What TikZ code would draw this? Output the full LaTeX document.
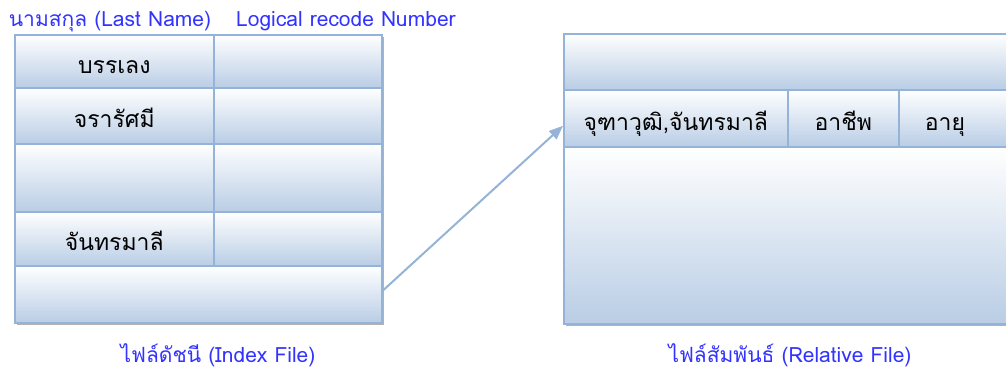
\documentclass[tikz,border=0pt]{standalone}
\usepackage{fontspec}
\newfontfamily\thaifont[Script=Thai]{Loma}
\usetikzlibrary{arrows.meta}
\definecolor{cellline}{HTML}{95B3D7}
\definecolor{cellbot}{HTML}{B9CDE5}
\definecolor{captionblue}{HTML}{3333FF}
\begin{document}
\begin{tikzpicture}[x=1pt,y=-1pt,
  cell/.style={draw=cellline, line width=1.6pt, top color=white, bottom color=cellbot,
    anchor=north west, inner sep=0pt, text=black, text height=24pt, text depth=0pt,
    font=\thaifont\fontsize{23}{26}\selectfont},
  celltext/.style={inner sep=0pt, text=black, text height=24pt, text depth=0pt,
    font=\thaifont\fontsize{23}{26}\selectfont},
  caption/.style={font=\thaifont\fontsize{21}{24}\selectfont, text=captionblue,
    inner sep=0pt, anchor=base},
  link/.style={draw=cellline, line width=2pt, -{Triangle[length=14pt,width=11pt]}},
  dropshadow/.style={fill=gray!60}]
\useasboundingbox (0,0) rectangle (1006,372);
\clip (0,0) rectangle (1006,372);

% drop shadows of both tables
\fill[dropshadow] (17,37) rectangle (384,325);
\fill[dropshadow] (566,36) rectangle (1012,326);

% index file
\node[cell, minimum width=199pt, minimum height=53pt] (i1a) at (14,34) {บรรเลง};
\node[cell, minimum width=168pt, minimum height=53pt] (i1b) at (213,34) {};
\node[cell, minimum width=199pt, minimum height=56pt] (i2a) at (14,87) {จรารัศมี};
\node[cell, minimum width=168pt, minimum height=56pt] (i2b) at (213,87) {};
\node[cell, minimum width=199pt, minimum height=68pt] (i3a) at (14,143) {};
\node[cell, minimum width=168pt, minimum height=68pt] (i3b) at (213,143) {};
\node[cell, minimum width=199pt, minimum height=54pt] (i4a) at (14,211) {จันทรมาลี};
\node[cell, minimum width=168pt, minimum height=54pt] (i4b) at (213,211) {};
\node[cell, minimum width=367pt, minimum height=57pt] (i5) at (14,265) {};

% relative file
\node[cell, minimum width=460pt, minimum height=56pt] (r1) at (563,33) {};
\node[cell, minimum width=224pt, minimum height=57pt] (r2a) at (563,89) {จุฑาวุฒิ,จันทรมาลี};
\node[cell, minimum width=111pt, minimum height=57pt] (r2b) at (787,89) {อาชีพ};
\node[cell, minimum width=125pt, minimum height=57pt] (r2c) at (898,89) {};
\node[celltext] (r2ctext) at (r2c.center -| 945,0) {อายุ};
\node[cell, minimum width=460pt, minimum height=177pt] (r3) at (563,146) {};

% pointer from index entry to record
\draw[link] ([yshift=3.5pt]i5.east) -- ([yshift=-7.5pt]r2a.west);

% captions
\node[caption] (capname) at (110,26) {นามสกุล (Last Name)};
\node[caption] (capnum) at (346,26) {Logical recode Number};
\node[caption] (capidx) at (218,362) {ไฟล์ดัชนี (Index File)};
\node[caption] (caprel) at (790,362) {ไฟล์สัมพันธ์ (Relative File)};
\end{tikzpicture}
\end{document}
